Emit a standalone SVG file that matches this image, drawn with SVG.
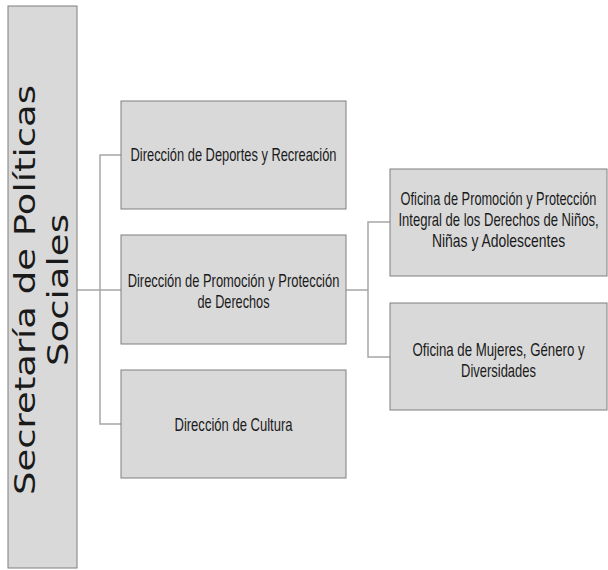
<svg xmlns="http://www.w3.org/2000/svg" width="608" height="570" viewBox="0 0 608 570">
<style>
.box{fill:#d9d9d9;stroke:#7f7f7f;stroke-width:1}
.t{font-family:"Liberation Sans",Arial,sans-serif;font-size:18px;fill:#1a1a1a;text-anchor:middle}
.big{font-family:"DejaVu Sans","Open Sans",sans-serif;font-size:28px;fill:#1a1a1a;text-anchor:middle}
.c{fill:none;stroke:#a6a6a6;stroke-width:1.5}
</style>
<rect width="608" height="570" fill="#ffffff"/>
<g id="connectors">
<path class="c" d="M77,290 H121"/>
<path class="c" d="M121,155 H100 V424 H121"/>
<path class="c" d="M346,290 H368"/>
<path class="c" d="M390,222 H368 V357 H390"/>
</g>
<g id="secretaria">
<rect class="box" x="8" y="6" width="69" height="562"/>
<g transform="translate(42,290) rotate(-90)">
<text class="big" x="0" y="-7" textLength="410" lengthAdjust="spacingAndGlyphs">Secretaría de Políticas</text>
<text class="big" x="0" y="26" textLength="152" lengthAdjust="spacingAndGlyphs">Sociales</text>
</g>
</g>
<g id="deportes">
<rect class="box" x="121" y="101" width="225" height="108"/>
<text class="t" transform="translate(233.5,161) scale(0.72,1)" textLength="286" lengthAdjust="spacingAndGlyphs">Dirección de Deportes y Recreación</text>
</g>
<g id="promocion">
<rect class="box" x="121" y="235" width="225" height="109"/>
<text class="t" transform="translate(233.5,287) scale(0.72,1)" textLength="294" lengthAdjust="spacingAndGlyphs">Dirección de Promoción y Protección</text>
<text class="t" transform="translate(233.5,308) scale(0.72,1)" textLength="100" lengthAdjust="spacingAndGlyphs">de Derechos</text>
</g>
<g id="cultura">
<rect class="box" x="121" y="370" width="225" height="108"/>
<text class="t" transform="translate(233.5,431) scale(0.72,1)" textLength="164" lengthAdjust="spacingAndGlyphs">Dirección de Cultura</text>
</g>
<g id="ninos">
<rect class="box" x="390" y="169" width="217" height="107"/>
<text class="t" transform="translate(498.5,205) scale(0.72,1)" textLength="272" lengthAdjust="spacingAndGlyphs">Oficina de Promoción y Protección</text>
<text class="t" transform="translate(498.5,226) scale(0.72,1)" textLength="278" lengthAdjust="spacingAndGlyphs">Integral de los Derechos de Niños,</text>
<text class="t" transform="translate(498.5,247) scale(0.72,1)" textLength="185" lengthAdjust="spacingAndGlyphs">Niñas y Adolescentes</text>
</g>
<g id="mujeres">
<rect class="box" x="390" y="303" width="217" height="107"/>
<text class="t" transform="translate(498.5,356) scale(0.72,1)" textLength="239" lengthAdjust="spacingAndGlyphs">Oficina de Mujeres, Género y</text>
<text class="t" transform="translate(498.5,377) scale(0.72,1)" textLength="104" lengthAdjust="spacingAndGlyphs">Diversidades</text>
</g>
</svg>
